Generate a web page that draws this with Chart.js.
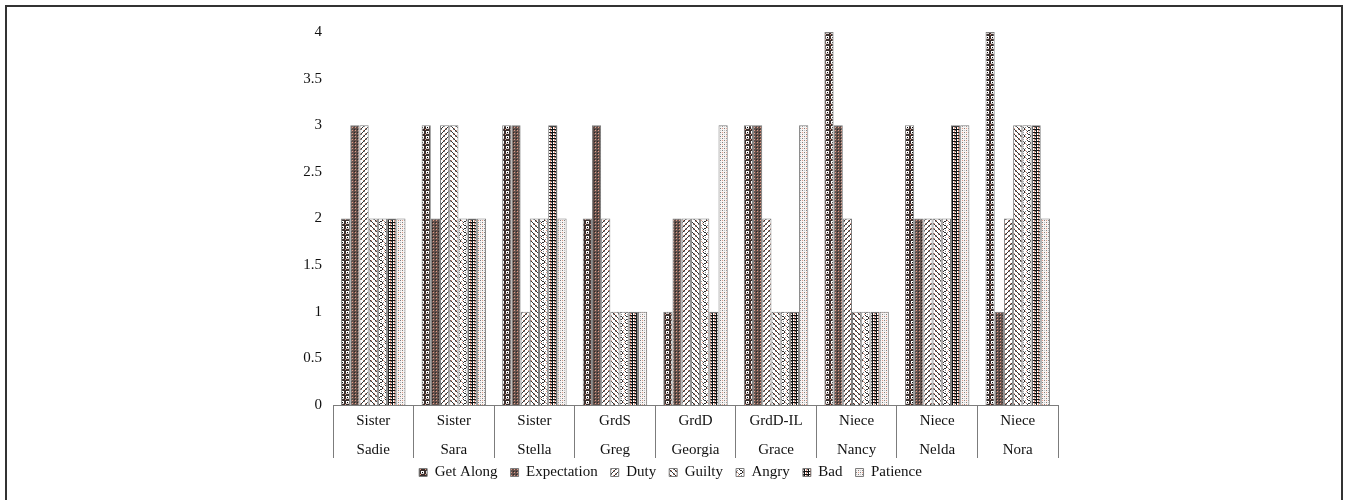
<!DOCTYPE html>
<html>
<head>
<meta charset="utf-8">
<script src="https://cdn.jsdelivr.net/npm/chart.js@4.4.0/dist/chart.umd.min.js"></script>
<style>
  html, body { margin: 0; padding: 0; background: #fff; overflow: hidden; width: 1350px; height: 500px; }
  #frame { position: absolute; left: 5px; top: 5px; width: 1338px; height: 620px; border: 2px solid #333; box-sizing: border-box; }
  #wrap { position: absolute; left: 0; top: 0; width: 1350px; height: 500px; }
</style>
</head>
<body>
<div id="frame"></div>
<div id="wrap"><canvas id="c" width="1350" height="500"></canvas></div>
<script>
// Relationship and name for each person (two-level category axis)
const relations = ["Sister", "Sister", "Sister", "GrdS", "GrdD", "GrdD-IL", "Niece", "Niece", "Niece"];
const names = ["Sadie", "Sara", "Stella", "Greg", "Georgia", "Grace", "Nancy", "Nelda", "Nora"];

// Ratings per person
const getAlong    = [2, 3, 3, 2, 1, 3, 4, 3, 4];
const expectation = [3, 2, 3, 3, 2, 3, 3, 2, 1];
const duty        = [3, 3, 1, 2, 2, 2, 2, 2, 2];
const guilty      = [2, 3, 2, 1, 2, 1, 1, 2, 3];
const angry       = [2, 2, 2, 1, 2, 1, 1, 2, 3];
const bad         = [2, 2, 3, 1, 1, 1, 1, 3, 3];
const patience    = [2, 2, 2, 1, 3, 3, 1, 3, 2];

const seriesNames = ["Get Along", "Expectation", "Duty", "Guilty", "Angry", "Bad", "Patience"];
const yTicks = [0, 0.5, 1, 1.5, 2, 2.5, 3, 3.5, 4];

// Small tiled fills, one per series
function makePattern(w, h, draw) {
  const t = document.createElement('canvas');
  t.width = w; t.height = h;
  const g = t.getContext('2d');
  draw(g);
  return document.getElementById('c').getContext('2d').createPattern(t, 'repeat');
}
function px(g, color, pts) {
  g.fillStyle = color;
  for (const p of pts) g.fillRect(p[0], p[1], p[2] || 1, p[3] || 1);
}

const SAL = '#e39a86';
const patterns = [
  // Get Along: dark with white square holes
  makePattern(5, 5, g => {
    px(g, '#3a2f2d', [[0, 0, 5, 5]]);
    px(g, '#ffffff', [[1, 1, 3, 2]]);
    px(g, '#d8d0ce', [[1, 3, 3, 1]]);
    px(g, '#000000', [[2, 2]]);
    px(g, SAL, [[0, 4]]);
  }),
  // Expectation: dark taupe with fine salmon dots
  makePattern(3, 3, g => {
    px(g, '#62514c', [[0, 0, 3, 3]]);
    px(g, SAL, [[1, 1]]);
    px(g, '#2e2422', [[0, 0]]);
  }),
  // Duty: forward diagonal strokes
  makePattern(5, 5, g => {
    px(g, '#ffffff', [[0, 0, 5, 5]]);
    px(g, '#333333', [[4, 0], [3, 1], [2, 2], [1, 3], [0, 4]]);
    px(g, SAL, [[3, 0], [0, 3]]);
    px(g, '#8a8a8a', [[4, 1], [1, 4]]);
  }),
  // Guilty: backward diagonal strokes
  makePattern(5, 5, g => {
    px(g, '#ffffff', [[0, 0, 5, 5]]);
    px(g, '#333333', [[0, 0], [1, 1], [2, 2], [3, 3], [4, 4]]);
    px(g, SAL, [[1, 0], [4, 3]]);
    px(g, '#8a8a8a', [[0, 1], [3, 4]]);
  }),
  // Angry: short curved dashes
  makePattern(6, 7, g => {
    px(g, '#ffffff', [[0, 0, 6, 7]]);
    px(g, '#2e2e2e', [[1, 0], [2, 1], [3, 1], [4, 2], [4, 3], [3, 4], [2, 4], [1, 5]]);
    px(g, SAL, [[5, 3], [0, 6]]);
    px(g, '#8a8a8a', [[5, 1], [0, 4], [3, 6]]);
  }),
  // Bad: ladder plaid of dark lines with salmon cells
  makePattern(4, 3, g => {
    px(g, '#ffffff', [[0, 0, 4, 3]]);
    px(g, SAL, [[2, 1, 1, 2]]);
    px(g, '#111111', [[0, 0, 4, 1], [0, 0, 1, 3]]);
    px(g, '#6a6a6a', [[3, 1]]);
  }),
  // Patience: light dotted
  makePattern(4, 4, g => {
    px(g, '#f7f4f3', [[0, 0, 4, 4]]);
    px(g, '#7e7e7e', [[0, 0], [2, 2]]);
    px(g, SAL, [[2, 0]]);
    px(g, '#c4c4c4', [[0, 2]]);
  })
];

const values = [getAlong, expectation, duty, guilty, angry, bad, patience];
const SERIF = '"Liberation Serif", "Times New Roman", serif';

// Pull the legend row up closer to the category labels
const legendLift = {
  id: 'legendLift',
  afterLayout(chart) {
    const lg = chart.legend;
    if (lg) { lg.top -= 10; lg.bottom -= 10; }
  }
};

new Chart(document.getElementById('c'), {
  type: 'bar',
  data: {
    labels: relations.map((r, i) => [r, names[i]]),
    datasets: seriesNames.map((n, i) => ({
      label: n,
      data: values[i],
      backgroundColor: patterns[i],
      borderColor: '#7c7c7c',
      borderWidth: 1,
      categoryPercentage: 0.8,
      barPercentage: 1.0
    }))
  },
  plugins: [legendLift],
  options: {
    responsive: false,
    animation: false,
    devicePixelRatio: 1,
    layout: { padding: { left: 283, right: 292, top: 32, bottom: 0 } },
    plugins: {
      tooltip: { enabled: false },
      legend: {
        position: 'bottom',
        labels: {
          boxWidth: 8,
          boxHeight: 8,
          padding: 13,
          color: '#111',
          font: { family: SERIF, size: 15 }
        }
      }
    },
    scales: {
      x: {
        offset: true,
        grid: { offset: true, drawOnChartArea: false, drawTicks: true, tickLength: 53, color: '#7c7c7c', lineWidth: 1 },
        border: { display: true, color: '#7c7c7c', width: 1 },
        ticks: {
          color: '#111',
          padding: -52,
          autoSkip: false,
          maxRotation: 0,
          font: { family: SERIF, size: 15, lineHeight: 1.95 }
        },
        afterFit: s => { s.height = 57; }
      },
      y: {
        min: 0,
        max: 4,
        afterBuildTicks: s => { s.ticks = yTicks.map(v => ({ value: v })); },
        grid: { display: false, drawTicks: false },
        border: { display: false },
        ticks: {
          color: '#111',
          padding: 11,
          font: { family: SERIF, size: 15 },
          callback: v => String(v)
        },
        afterFit: s => { s.width = 50; }
      }
    }
  }
});
</script>
</body>
</html>
